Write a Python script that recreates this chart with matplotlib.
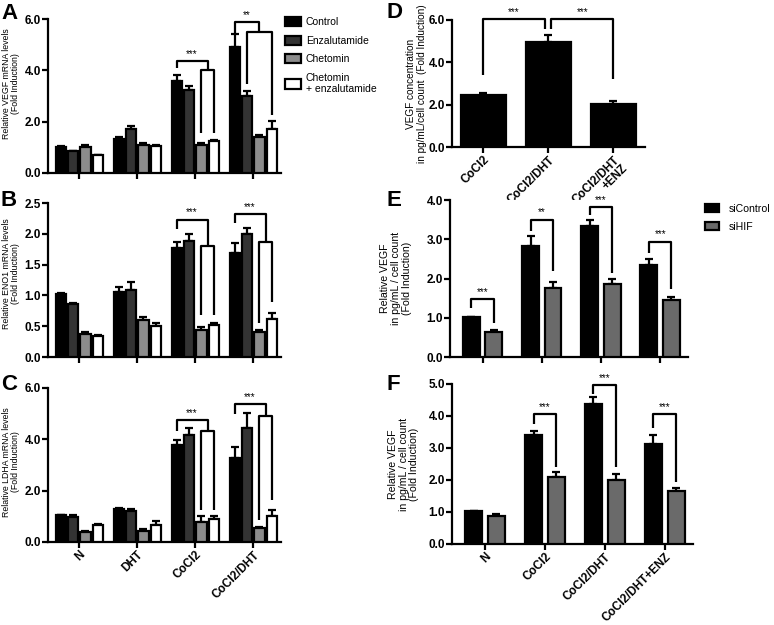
import matplotlib
matplotlib.use('Agg')
import matplotlib.pyplot as plt
import numpy as np
from matplotlib.patches import Patch

plt.rcParams['font.family'] = ['Liberation Sans', 'DejaVu Sans']

# ---------------- data ----------------
groups_abc = ['N', 'DHT', 'CoCl2', 'CoCl2/DHT']
series_abc = ['Control', 'Enzalutamide', 'Chetomin', 'Chetomin\n+ enzalutamide']

# Panel A: VEGF mRNA
a_control = [1.02, 1.33, 3.60, 4.92]
a_control_err = [0.02, 0.06, 0.22, 0.50]
a_enz = [0.85, 1.71, 3.22, 3.00]
a_enz_err = [0.02, 0.14, 0.17, 0.18]
a_chet = [1.02, 1.11, 1.08, 1.40]
a_chet_err = [0.08, 0.07, 0.07, 0.07]
a_chetenz = [0.70, 1.06, 1.24, 1.73]
a_chetenz_err = [0.01, 0.04, 0.05, 0.29]

# Panel B: ENO1 mRNA
b_control = [1.02, 1.06, 1.77, 1.69]
b_control_err = [0.02, 0.07, 0.10, 0.16]
b_enz = [0.86, 1.08, 1.89, 1.99]
b_enz_err = [0.02, 0.14, 0.10, 0.11]
b_chet = [0.37, 0.60, 0.44, 0.41]
b_chet_err = [0.04, 0.05, 0.04, 0.03]
b_chetenz = [0.34, 0.50, 0.52, 0.61]
b_chetenz_err = [0.02, 0.06, 0.04, 0.11]

# Panel C: LDHA mRNA
c_control = [1.04, 1.27, 3.76, 3.28]
c_control_err = [0.02, 0.07, 0.23, 0.42]
c_enz = [0.97, 1.19, 4.18, 4.43]
c_enz_err = [0.08, 0.08, 0.25, 0.58]
c_chet = [0.39, 0.43, 0.78, 0.54]
c_chet_err = [0.04, 0.07, 0.23, 0.04]
c_chetenz = [0.67, 0.67, 0.88, 1.01]
c_chetenz_err = [0.02, 0.15, 0.13, 0.22]

# Panel D
d_groups = ['CoCl2', 'CoCl2/DHT', 'CoCl2/DHT\n+ENZ']
d_values = [2.48, 4.98, 2.05]
d_err = [0.09, 0.32, 0.13]

# Panels E, F
ef_groups = ['N', 'CoCl2', 'CoCl2/DHT', 'CoCl2/DHT+ENZ']
ef_series = ['siControl', 'siHIF']
e_sicontrol = [1.02, 2.84, 3.33, 2.34]
e_sicontrol_err = [0.01, 0.24, 0.17, 0.15]
e_sihif = [0.64, 1.76, 1.86, 1.44]
e_sihif_err = [0.04, 0.14, 0.13, 0.08]
f_sicontrol = [1.02, 3.42, 4.37, 3.11]
f_sicontrol_err = [0.01, 0.11, 0.22, 0.31]
f_sihif = [0.88, 2.10, 1.99, 1.66]
f_sihif_err = [0.06, 0.16, 0.21, 0.08]

# significance brackets (group, main y, left leg end, sub y, sub from, sub to, sub leg ends, label)
a_brackets = [(2, 4.37, 4.08, 4.00, 2, 3, (1.56, 1.56), '***'),
              (3, 5.87, 5.45, 5.50, 1, 3, (3.45, 2.25), '**')]
b_brackets = [(2, 2.23, 2.07, 1.80, 2, 3, (0.68, 0.68), '***'),
              (3, 2.32, 2.17, 1.86, 2, 3, (0.55, 0.90), '***')]
c_brackets = [(2, 4.75, 4.34, 4.34, 2, 3, (1.23, 1.23), '***'),
              (3, 5.37, 4.98, 4.92, 2, 3, (0.84, 1.64), '***')]
d_brackets = [(0, 0.95, 6.05, 3.40, 5.58, '***'),
              (1.05, 2, 6.05, 5.58, 3.20, '***')]
e_brackets = [(0, 1.47, 1.24, 0.86, '***'), (1, 3.50, 3.20, 2.19, '**'),
              (2, 3.82, 3.62, 2.13, '***'), (3, 2.94, 2.65, 1.74, '***')]
f_brackets = [(1, 4.06, 3.76, 2.40, '***'), (2, 4.97, 4.70, 2.40, '***'),
              (3, 4.06, 3.64, 1.95, '***')]

# ---------------- style ----------------
W, H = 774, 625
fig = plt.figure(figsize=(W / 100, H / 100), dpi=100)
LW = 1.6
TICKFS = 8.5
four_colors = ['#000000', '#333333', '#8c8c8c', '#ffffff']
two_colors = ['#000000', '#6a6a6a']


def add_axes(l, r, t, b):
    return fig.add_axes([l / W, 1 - b / H, (r - l) / W, (b - t) / H])


def style(ax, ymax, step):
    for s in ['top', 'right']:
        ax.spines[s].set_visible(False)
    for s in ['left', 'bottom']:
        ax.spines[s].set_linewidth(LW)
    ax.set_ylim(0, ymax)
    ax.set_yticks(np.arange(0, ymax + 1e-9, step))
    ax.yaxis.set_major_formatter(plt.FormatStrFormatter('%.1f'))
    ax.tick_params(width=LW, length=4, labelsize=TICKFS, pad=1.0)
    for lab in ax.get_yticklabels():
        lab.set_fontweight('bold')


def bars(ax, centers, values, errs, width, color):
    ax.bar(centers, values, width, color=color, edgecolor='black', linewidth=LW, zorder=3)
    ax.errorbar(centers, values, yerr=[np.zeros(len(values)), errs], fmt='none',
                ecolor='black', elinewidth=LW, capsize=3.2, capthick=LW, zorder=2)


def line(ax, xs, ys):
    ax.plot(xs, ys, color='black', lw=LW, clip_on=False, solid_capstyle='butt', zorder=4)


def star(ax, x, y, s):
    ax.annotate(s, xy=(x, y), xytext=(0, 1.5), textcoords='offset points', ha='center',
                va='bottom', fontsize=7, annotation_clip=False)


def panel_four(ax, data, ymax, step, brackets, ylabel, label_y, xlabels):
    off = 0.213
    wid = 0.178
    x = np.arange(4)
    for i, (vals, errs) in enumerate(data):
        bars(ax, x + (i - 1.5) * off, vals, errs, wid, four_colors[i])
    style(ax, ymax, step)
    ax.set_xlim(-0.54, 3.48)
    ax.set_xticks(x)
    if xlabels:
        ax.set_xticklabels(groups_abc, rotation=45, ha='right', va='top',
                           rotation_mode='anchor', fontweight='bold', fontsize=8.5)
    else:
        ax.set_xticklabels([])
    ax.set_ylabel(ylabel, fontsize=6.3, linespacing=0.98)
    ax.yaxis.set_label_coords(-0.122, label_y)
    for g, my, lend, sy, s1, s2, (l1, l2), lab in brackets:
        xa = g + (s1 - 1.5) * off
        xb = g + (s2 - 1.5) * off
        xm = (xa + xb) / 2
        x0 = g - 1.5 * off
        line(ax, [xa, xa, xb, xb], [l1, sy, sy, l2])
        line(ax, [x0, x0, xm, xm], [lend, my, my, sy])
        star(ax, (x0 + xm) / 2, my, lab)


def panel_two(ax, s1, e1, s2, e2, ymax, brackets, xlabels, label_x):
    off = 0.19
    wid = 0.285
    x = np.arange(4)
    bars(ax, x - off, s1, e1, wid, two_colors[0])
    bars(ax, x + off, s2, e2, wid, two_colors[1])
    style(ax, ymax, 1.0)
    ax.set_xlim(-0.55, 3.47)
    ax.set_xticks(x)
    if xlabels:
        ax.set_xticklabels(ef_groups, rotation=45, ha='right', va='top',
                           rotation_mode='anchor', fontweight='bold', fontsize=8.5)
    else:
        ax.set_xticklabels([])
    ax.set_ylabel('Relative VEGF\nin pg/mL / cell count\n(Fold Induction)', fontsize=7.6,
                  linespacing=1.1)
    ax.yaxis.set_label_coords(label_x, 0.5)
    for g, y, l1, l2, lab in brackets:
        line(ax, [g - off, g - off, g + off, g + off], [l1, y, y, l2])
        star(ax, g, y, lab)


# Panel A
axA = add_axes(48, 281, 19, 173)
panel_four(axA, [(a_control, a_control_err), (a_enz, a_enz_err), (a_chet, a_chet_err),
                 (a_chetenz, a_chetenz_err)], 6.0, 2.0, a_brackets,
           'Relative VEGF mRNA levels\n(Fold Induction)', 0.58, False)

# Panel B
axB = add_axes(48, 281, 203, 357)
panel_four(axB, [(b_control, b_control_err), (b_enz, b_enz_err), (b_chet, b_chet_err),
                 (b_chetenz, b_chetenz_err)], 2.5, 0.5, b_brackets,
           'Relative ENO1 mRNA levels\n(Fold Induction)', 0.54, False)

# Panel C
axC = add_axes(48, 281, 388, 542)
panel_four(axC, [(c_control, c_control_err), (c_enz, c_enz_err), (c_chet, c_chet_err),
                 (c_chetenz, c_chetenz_err)], 6.0, 2.0, c_brackets,
           'Relative LDHA mRNA levels\n(Fold Induction)', 0.52, True)

# Legend A
handles = [Patch(facecolor=c, edgecolor='black', linewidth=LW) for c in four_colors]
fig.legend(handles, series_abc, loc='upper left', bbox_to_anchor=(285 / W, 1 - 17 / H),
           frameon=False, fontsize=7.5, handlelength=1.5, handleheight=1.0,
           labelspacing=0.8, handletextpad=0.5, borderaxespad=0, borderpad=0)

# Panel D
axD = add_axes(452, 645, 20, 147)
xd = np.arange(3)
bars(axD, xd, d_values, d_err, 0.69, '#000000')
style(axD, 6.0, 2.0)
axD.set_xlim(-0.48, 2.49)
axD.set_xticks(xd)
axD.set_xticklabels(d_groups, rotation=45, ha='right', va='top', rotation_mode='anchor',
                    fontweight='bold', fontsize=8.5, linespacing=1.0)
axD.set_ylabel('VEGF concentration\nin pg/mL/cell count  (Fold Induction)', fontsize=7.2,
               linespacing=1.15)
axD.yaxis.set_label_coords(-0.13, 0.5)
for x1, x2, y, l1, l2, lab in d_brackets:
    line(axD, [x1, x1, x2, x2], [l1, y, y, l2])
    star(axD, (x1 + x2) / 2, y, lab)

# Panel E
axE = add_axes(450, 688, 200, 357)
panel_two(axE, e_sicontrol, e_sicontrol_err, e_sihif, e_sihif_err, 4.0, e_brackets, False,
          -0.16)
handles2 = [Patch(facecolor=c, edgecolor='black', linewidth=LW) for c in two_colors]
fig.legend(handles2, ef_series, loc='upper left', bbox_to_anchor=(705 / W, 1 - 204 / H),
           frameon=False, fontsize=7.6, handlelength=1.3, handleheight=0.8,
           labelspacing=0.75, handletextpad=0.9, borderaxespad=0, borderpad=0)

# Panel F
axF = add_axes(452, 693, 384, 544)
panel_two(axF, f_sicontrol, f_sicontrol_err, f_sihif, f_sihif_err, 5.0, f_brackets, True,
          -0.135)

# Panel letters
for lab, (px, py) in zip('ABCDEF', [(1, 3), (1, 190), (1, 374), (387, 2), (387, 190), (387, 374)]):
    fig.text(px / W, 1 - py / H, lab, fontsize=16, fontweight='bold', ha='left', va='top')

fig.savefig('out.png', dpi=100)
